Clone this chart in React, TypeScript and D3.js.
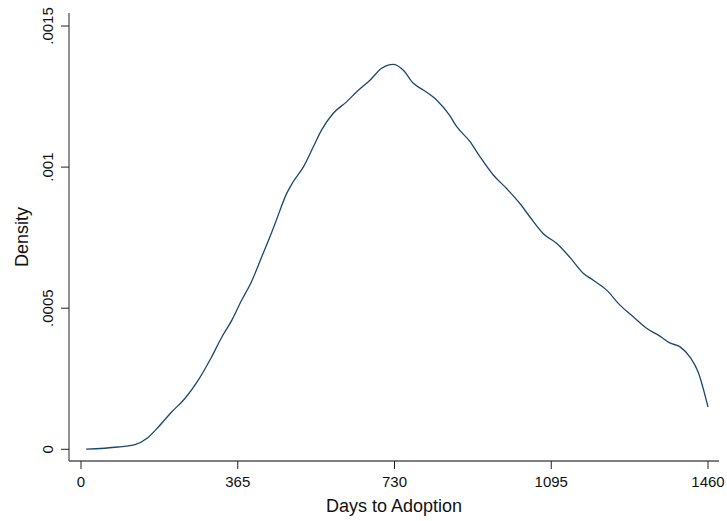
import React from "react";
import * as d3 from "d3";

const days = [12, 86, 126, 153, 180, 211, 242, 273, 304, 328, 351, 374, 397, 424, 440, 452, 479, 494, 518, 541, 560, 587, 619, 642, 673, 700, 727, 750, 774, 797, 828, 858, 875, 906, 929, 960, 991, 1022, 1045, 1076, 1108, 1139, 1170, 1193, 1224, 1255, 1286, 1317, 1348, 1371, 1395, 1418, 1437, 1460];
const density = [0.0000005, 0.0000082, 0.0000167, 0.000038, 0.000079, 0.000132, 0.00018, 0.000245, 0.000327, 0.000398, 0.000457, 0.000528, 0.000594, 0.000694, 0.000753, 0.0008, 0.000907, 0.000948, 0.001001, 0.001072, 0.001131, 0.00119, 0.001232, 0.001267, 0.001308, 0.00135, 0.001364, 0.001344, 0.001297, 0.001273, 0.001238, 0.001184, 0.001143, 0.00109, 0.001037, 0.000972, 0.000924, 0.000871, 0.000824, 0.000765, 0.000729, 0.000679, 0.000623, 0.000599, 0.000564, 0.000511, 0.00047, 0.000429, 0.000401, 0.000377, 0.000363, 0.000327, 0.000274, 0.00015];
const xTicks = [0, 365, 730, 1095, 1460];
const yTicks = [0, 0.0005, 0.001, 0.0015];
const yTickLabels = ["0", ".0005", ".001", ".0015"];

export default function App() {
  const W = 727, H = 521;
  const x = d3.scaleLinear().domain([0, 1460]).range([81, 708]);
  const y = d3.scaleLinear().domain([0, 0.0015]).range([449.3, 26]);
  const pts: [number, number][] = days.map((d, i) => [d, density[i]]);
  const line = d3.line<[number, number]>().x(d => x(d[0])).y(d => y(d[1])).curve(d3.curveMonotoneX);
  const font = "'Liberation Sans', Arial, sans-serif";
  const axisX = 69, axisY = 461;
  return (
    <svg width={W} height={H} style={{ position: "absolute", left: 0, top: 0, background: "#fff" }} fontFamily={font}>
      <rect x={0} y={0} width={W} height={H} fill="#fff" />
      <line x1={axisX} x2={axisX} y1={13} y2={axisY} stroke="#555" strokeWidth={1.3} />
      <line x1={axisX} x2={719} y1={axisY} y2={axisY} stroke="#555" strokeWidth={1.3} />
      {yTicks.map((t, i) => (
        <g key={"y" + i}>
          <line x1={61} x2={axisX} y1={y(t)} y2={y(t)} stroke="#222" strokeWidth={1} />
          <text transform={`translate(53,${y(t)}) rotate(-90)`} textAnchor="middle" fontSize={15} fill="#111">{yTickLabels[i]}</text>
        </g>
      ))}
      {xTicks.map((t, i) => (
        <g key={"x" + i}>
          <line x1={x(t)} x2={x(t)} y1={axisY} y2={469} stroke="#222" strokeWidth={1} />
          <text x={x(t)} y={487} textAnchor="middle" fontSize={15} fill="#111">{String(t)}</text>
        </g>
      ))}
      <text x={394} y={512} textAnchor="middle" fontSize={18} fill="#111">Days to Adoption</text>
      <text transform={`translate(28,237) rotate(-90)`} textAnchor="middle" fontSize={18} fill="#111">Density</text>
      <path d={line(pts) || ""} fill="none" stroke="#1a476f" strokeWidth={1.3} />
    </svg>
  );
}
